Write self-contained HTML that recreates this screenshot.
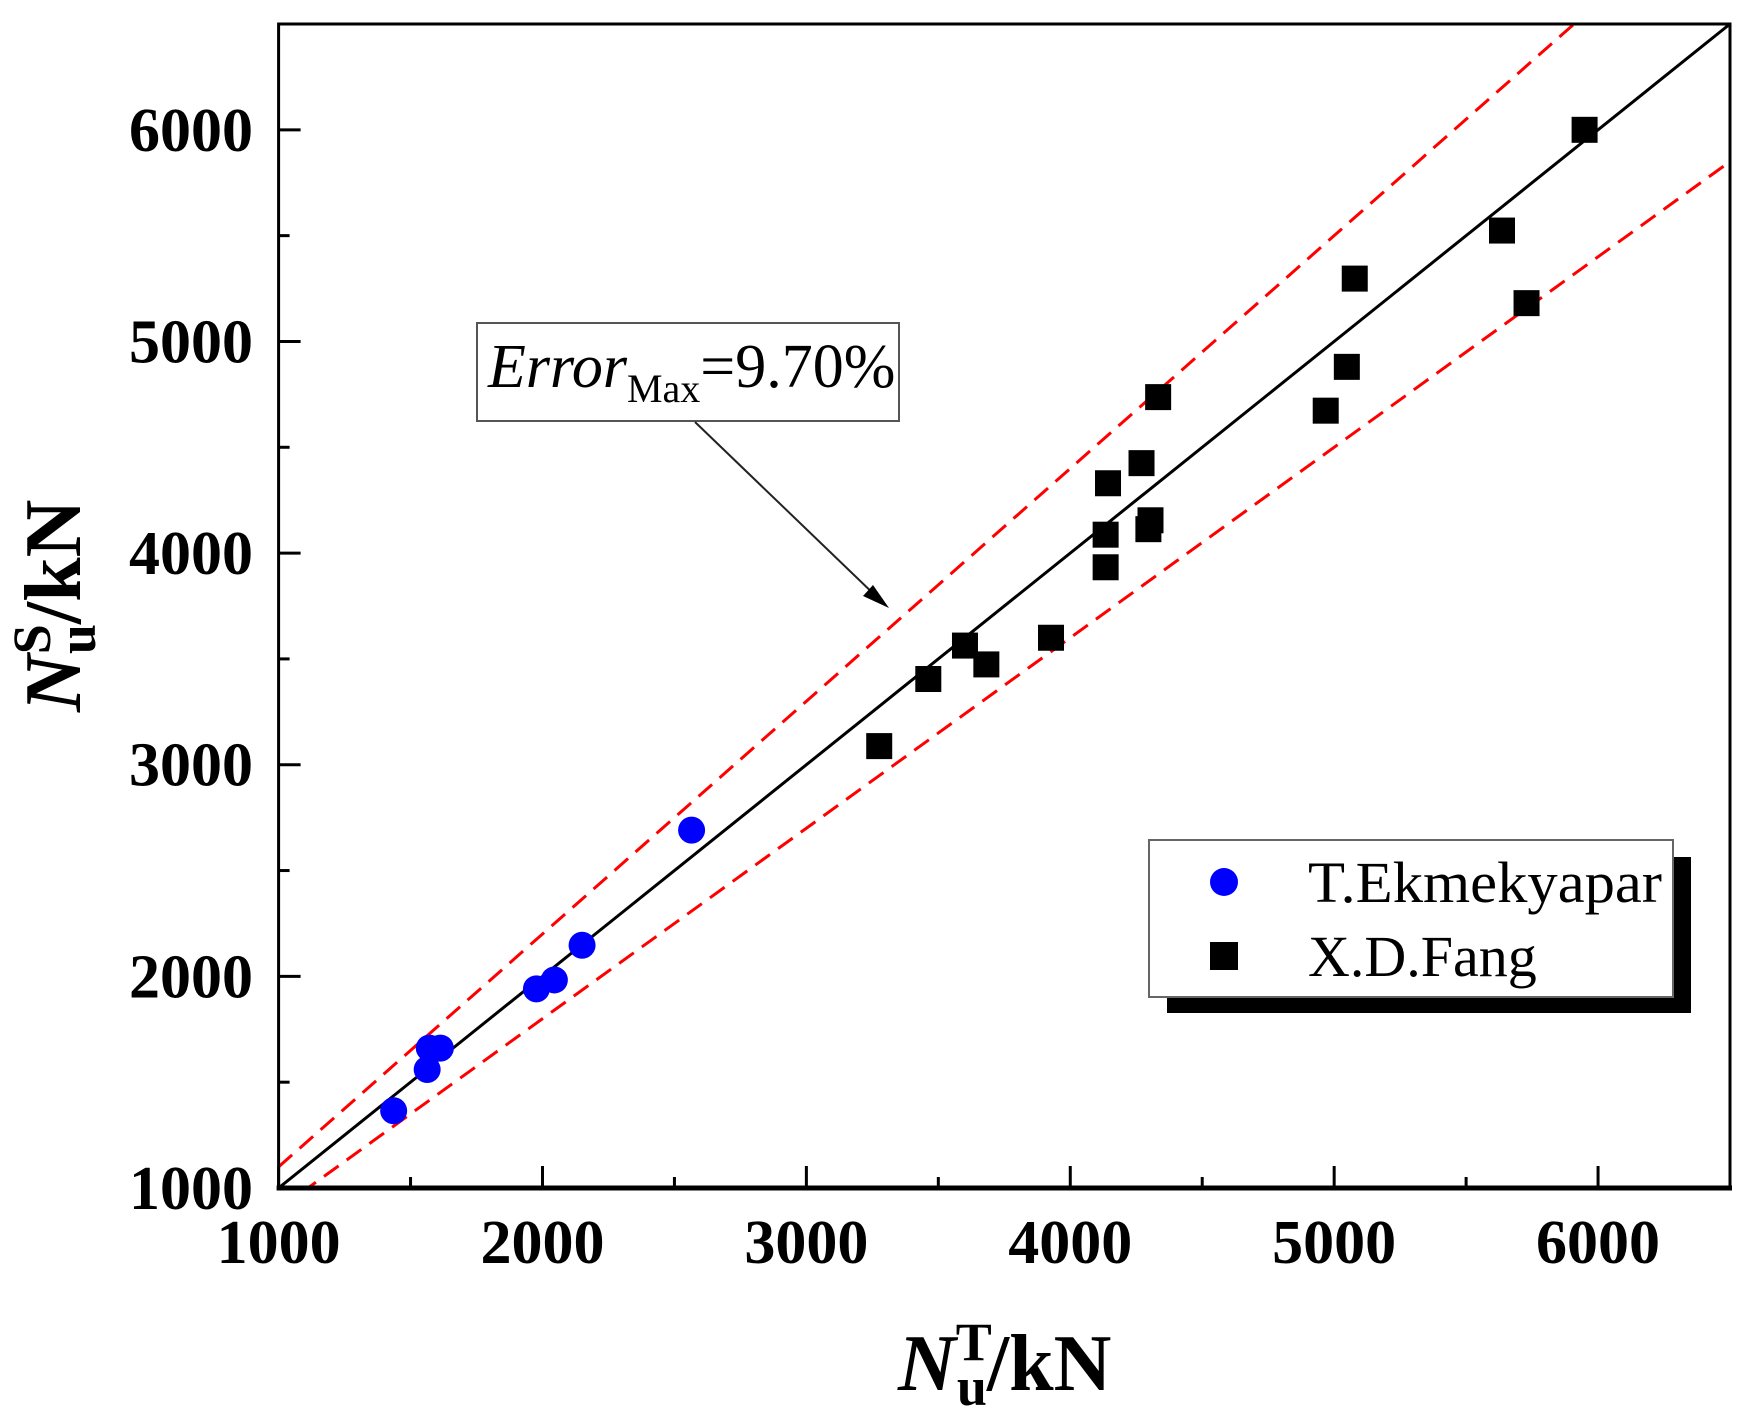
<!DOCTYPE html>
<html><head><meta charset="utf-8"><style>html,body{margin:0;padding:0;background:#fff}svg{display:block}</style></head>
<body>
<svg id="chart" width="1752" height="1428" viewBox="0 0 1752 1428" xmlns="http://www.w3.org/2000/svg" font-family="'Liberation Serif', serif">
<g id="lines"></g>
<g id="marks"></g>
<g id="axes"></g>
<g>
  <rect x="477" y="323" width="422" height="98" fill="#fff" stroke="#555" stroke-width="2"/>
  <text x="488" y="387" font-size="62"><tspan font-style="italic">Error</tspan><tspan font-size="40" dy="15">Max</tspan><tspan dy="-15">=9.70%</tspan></text>
  <line x1="695" y1="422" x2="880" y2="600" stroke="#222" stroke-width="2"/>
  <polygon points="889,608 863,596 873,585" fill="#000"/>
</g>
<g>
  <rect x="1167" y="857" width="524" height="156" fill="#000"/>
  <rect x="1149" y="840" width="524" height="157" fill="#fff" stroke="#666" stroke-width="2"/>
  <circle cx="1224" cy="882" r="14" fill="#0000ff"/>
  <text x="1308" y="902" font-size="58" textLength="354" lengthAdjust="spacingAndGlyphs">T.Ekmekyapar</text>
  <rect x="1210" y="942" width="28" height="28" fill="#000"/>
  <text x="1308" y="976" font-size="58">X.D.Fang</text>
</g>
<text x="898" y="1390" font-size="80" font-weight="bold"><tspan font-style="italic">N</tspan><tspan font-size="54" dy="-30">T</tspan><tspan font-size="54" dx="-30" dy="45">u</tspan><tspan dy="-15">/kN</tspan></text>
<text transform="translate(80,712) rotate(-90)" font-size="80" font-weight="bold"><tspan font-style="italic">N</tspan><tspan font-size="54" dy="-30">S</tspan><tspan font-size="54" dx="-30" dy="45">u</tspan><tspan dy="-15">/kN</tspan></text>
</svg>
<script>
const ekX = [1436, 1563, 1571, 1613, 1977, 2045, 2150, 2565];
const ekY = [1365, 1560, 1661, 1661, 1941, 1983, 2147, 2691];
const fangX = [3276, 3462, 3601, 3682, 3927, 4134, 4134, 4143, 4270, 4296, 4304, 4333, 4968, 5048, 5078, 5636, 5729, 5949];
const fangY = [3088, 3405, 3563, 3474, 3600, 3933, 4087, 4330, 4425, 4113, 4155, 4737, 4673, 4880, 5297, 5524, 5181, 6000];
const majorTicks = [1000, 2000, 3000, 4000, 5000, 6000];
const minorTicks = [1500, 2500, 3500, 4500, 5500];
const tickLabels = ["1000", "2000", "3000", "4000", "5000", "6000"];
const refSlopes = [1.0, 1.1, 0.9];

const NS = "http://www.w3.org/2000/svg";
const X0 = 278.6, X1 = 1730, Y0 = 1188, Y1 = 24, MIN = 1000, MAX = 6500;
const sx = v => X0 + (v - MIN) / (MAX - MIN) * (X1 - X0);
const sy = v => Y0 - (v - MIN) / (MAX - MIN) * (Y0 - Y1);
function mk(tag, attrs, parent) {
  const e = document.createElementNS(NS, tag);
  for (const k in attrs) e.setAttribute(k, attrs[k]);
  parent.appendChild(e);
  return e;
}
const lines = document.getElementById('lines');
const marks = document.getElementById('marks');
const axes = document.getElementById('axes');

const defs = mk('defs', {}, lines);
const cp = mk('clipPath', {id: 'plotclip'}, defs);
mk('rect', {x: X0, y: Y1, width: X1 - X0, height: Y0 - Y1}, cp);
lines.setAttribute('clip-path', 'url(#plotclip)');

refSlopes.forEach((k, i) => {
  const l = mk('line', {x1: sx(MIN), y1: sy(MIN * k), x2: sx(MAX), y2: sy(MAX * k),
    stroke: i === 0 ? '#000' : '#ff0000', 'stroke-width': 3,
    'stroke-dasharray': i === 0 ? 'none' : '18,10'}, lines);
  
  
});

ekX.forEach((v, i) => {
  const c = mk('circle', {cx: sx(v), cy: sy(ekY[i]), r: 13.5, fill: '#0000ff'}, marks);
  
  
});
fangX.forEach((v, i) => {
  const r = mk('rect', {x: sx(v) - 13, y: sy(fangY[i]) - 13, width: 26, height: 26, fill: '#000'}, marks);
  
  
});

const frame = mk('rect', {x: X0, y: Y1, width: X1 - X0, height: Y0 - Y1, fill: 'none', stroke: '#000', 'stroke-width': 3}, axes);


const xa = mk('line', {x1: X0 - 2, y1: Y0, x2: X1 + 2, y2: Y0, stroke: '#000', 'stroke-width': 5}, axes);



majorTicks.forEach((v, i) => {
  const t1 = mk('line', {x1: sx(v), y1: Y0, x2: sx(v), y2: Y0 - 22, stroke: '#000', 'stroke-width': 3}, axes);
  
  
  const t2 = mk('line', {x1: X0, y1: sy(v), x2: X0 + 22, y2: sy(v), stroke: '#000', 'stroke-width': 3}, axes);
  
  
  const lx = mk('text', {x: sx(v), y: 1263, 'font-size': 62, 'font-weight': 'bold', 'text-anchor': 'middle'}, axes);
  lx.textContent = tickLabels[i];
  
  
  const ly = mk('text', {x: 253, y: sy(v) + 21, 'font-size': 62, 'font-weight': 'bold', 'text-anchor': 'end'}, axes);
  ly.textContent = tickLabels[i];
  
  
});
minorTicks.forEach(v => {
  const t1 = mk('line', {x1: sx(v), y1: Y0, x2: sx(v), y2: Y0 - 11, stroke: '#000', 'stroke-width': 3}, axes);
  
  
  const t2 = mk('line', {x1: X0, y1: sy(v), x2: X0 + 11, y2: sy(v), stroke: '#000', 'stroke-width': 3}, axes);
  
  
});
</script>
</body></html>
